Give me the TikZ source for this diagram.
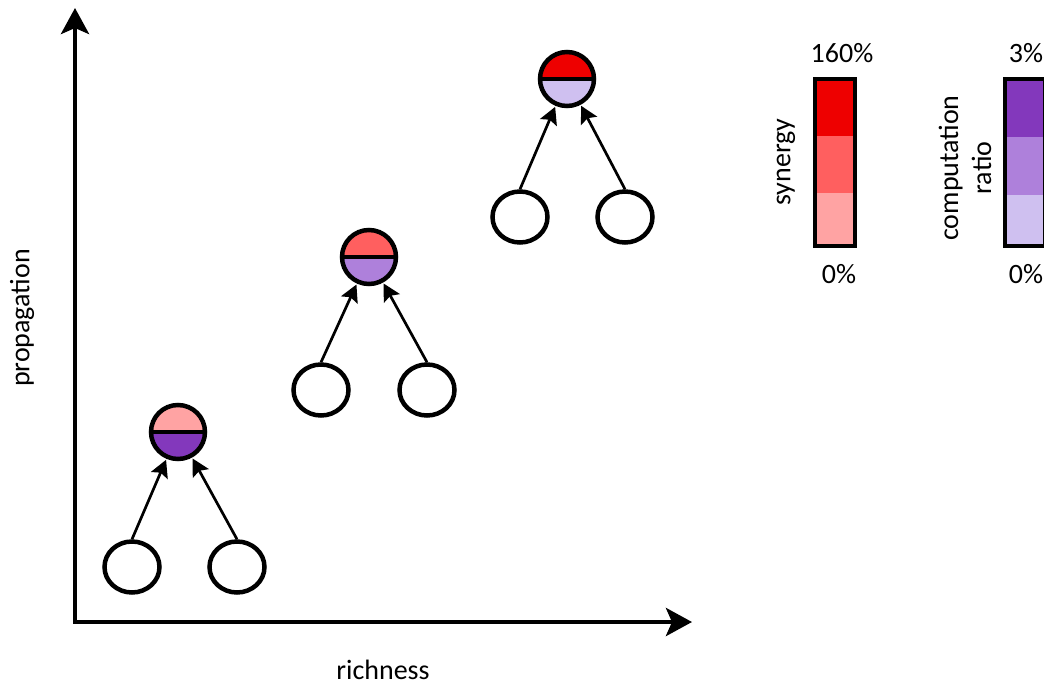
\documentclass[tikz,border=0pt]{standalone}
\usepackage{fontspec}
\setmainfont{Carlito}
\usetikzlibrary{arrows.meta,shapes.geometric}
\definecolor{redA}{HTML}{EE0000}
\definecolor{redB}{HTML}{FF5F5F}
\definecolor{redC}{HTML}{FFA3A3}
\definecolor{purA}{HTML}{8338BC}
\definecolor{purB}{HTML}{AE80DB}
\definecolor{purC}{HTML}{CFC0F0}
\tikzset{
  leaf/.style={ellipse, draw, line width=4.5pt, fill=white, minimum width=55pt, minimum height=51pt, inner sep=0pt},
  halfnode/.style 2 args={circle, draw, line width=4.5pt, minimum size=54pt, inner sep=0pt,
    path picture={
      \fill[#1] (path picture bounding box.north west) rectangle (path picture bounding box.east);
      \fill[#2] (path picture bounding box.west) rectangle (path picture bounding box.south east);
      \draw[line width=3.5pt] (path picture bounding box.west) -- (path picture bounding box.east);
    }},
  edgearrow/.style={line width=2.7pt, -{Stealth[length=17pt,width=18pt,inset=3pt]}, shorten >=1pt},
  axis/.style={line width=4.5pt, {Stealth[length=26pt,width=28pt,inset=6pt]}-{Stealth[length=26pt,width=28pt,inset=6pt]}},
  lbl/.style={font=\fontsize{28}{33}\selectfont, inner sep=0pt},
  bar/.style={line width=4.5pt}
}
\begin{document}
\begin{tikzpicture}[x=1pt,y=-1pt]
\useasboundingbox (0,0) rectangle (1044,687);
% axes
\coordinate (ytip) at (75,8);
\coordinate (corner) at (75,622);
\coordinate (xtip) at (692,622);
\draw[axis] (ytip) -- (corner) -- (xtip);
\node[lbl, rotate=90] (ylab) at (22,318) {propagation};
\node[lbl] (xlab) at (383,670) {richness};
% group 1
\node[halfnode={redC}{purA}] (t1) at (178,432) {};
\node[leaf] (a1) at (132,567) {};
\node[leaf] (b1) at (237,567) {};
\draw[edgearrow] (a1.north) -- (t1);
\draw[edgearrow] (b1.north) -- (t1);
% group 2
\node[halfnode={redB}{purB}] (t2) at (369,257) {};
\node[leaf] (a2) at (321,390) {};
\node[leaf] (b2) at (427,390) {};
\draw[edgearrow] (a2.north) -- (t2);
\draw[edgearrow] (b2.north) -- (t2);
% group 3
\node[halfnode={redA}{purC}] (t3) at (567,79) {};
\node[leaf] (a3) at (520,217) {};
\node[leaf] (b3) at (625,217) {};
\draw[edgearrow] (a3.north) -- (t3);
\draw[edgearrow] (b3.north) -- (t3);
% synergy bar
\fill[redA] (815,79) rectangle (855,136);
\fill[redB] (815,136) rectangle (855,193);
\fill[redC] (815,193) rectangle (855,246);
\draw[bar] (815,79) rectangle (855,246);
\node[lbl] (s160) at (842,53) {160\%};
\node[lbl] (s0) at (839,274) {0\%};
\node[lbl, rotate=90] (slab) at (786,162) {synergy};
% computation ratio bar
\fill[purA] (1005,79) rectangle (1045,137);
\fill[purB] (1005,137) rectangle (1045,195);
\fill[purC] (1005,195) rectangle (1045,246);
\draw[bar] (1005,79) rectangle (1045,246);
\node[lbl] (c3) at (1026,53) {3\%};
\node[lbl] (c0) at (1026,274) {0\%};
\node[lbl, rotate=90, align=center] (clab) at (965,168) {computation\\ratio};
\end{tikzpicture}
\end{document}
